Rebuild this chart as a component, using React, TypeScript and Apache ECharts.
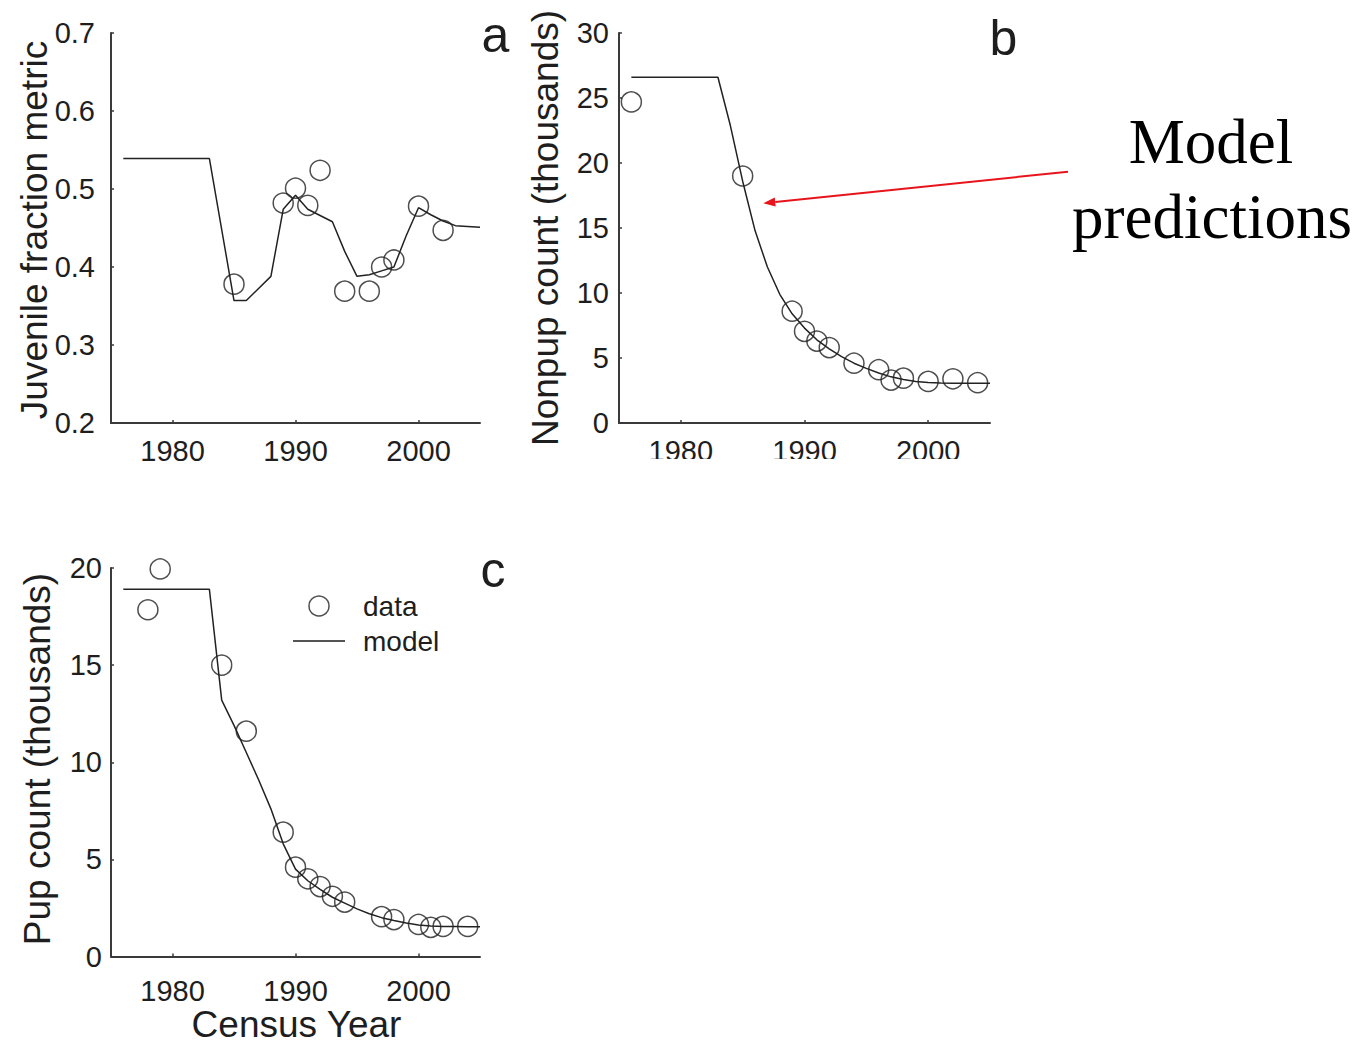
import React, { useEffect, useRef } from "react";
import * as echarts from "echarts";

// ---------- data ----------
const xTicks = [1980, 1990, 2000];

// panel a: juvenile fraction metric
const juvYears = [1985, 1989, 1990, 1991, 1992, 1994, 1996, 1997, 1998, 2000, 2002];
const juvData = [0.378, 0.482, 0.501, 0.479, 0.524, 0.369, 0.369, 0.4, 0.409, 0.478, 0.447];
const juvModelYears = [1976, 1983, 1985, 1986, 1988, 1989, 1990, 1991, 1993, 1994, 1995, 1996, 1997, 1998, 1999, 2000, 2001, 2002, 2003, 2005];
const juvModel = [0.539, 0.539, 0.357, 0.357, 0.388, 0.474, 0.492, 0.474, 0.458, 0.42, 0.388, 0.39, 0.395, 0.4, 0.44, 0.476, 0.467, 0.459, 0.453, 0.451];

// panel b: nonpup count (thousands)
const nonpupYears = [1976, 1985, 1989, 1990, 1991, 1992, 1994, 1996, 1997, 1998, 2000, 2002, 2004];
const nonpupData = [24.7, 19.0, 8.6, 7.05, 6.3, 5.8, 4.6, 4.1, 3.3, 3.45, 3.2, 3.4, 3.1];
const nonpupModelYears = [1976, 1983, 1984, 1985, 1986, 1987, 1988, 1989, 1990, 1991, 1992, 1993, 1994, 1995, 1996, 1997, 1998, 1999, 2000, 2001, 2002, 2003, 2004, 2005];
const nonpupModel = [26.6, 26.6, 22.9, 18.6, 14.8, 12.0, 9.9, 8.4, 7.3, 6.4, 5.7, 5.1, 4.6, 4.2, 3.85, 3.55, 3.35, 3.2, 3.12, 3.08, 3.06, 3.05, 3.05, 3.05];

// panel c: pup count (thousands)
const pupYears = [1978, 1979, 1984, 1986, 1989, 1990, 1991, 1992, 1993, 1994, 1997, 1998, 2000, 2001, 2002, 2004];
const pupData = [17.85, 19.95, 15.0, 11.6, 6.4, 4.6, 4.0, 3.6, 3.1, 2.8, 2.05, 1.9, 1.65, 1.5, 1.55, 1.55];
const pupModelYears = [1976, 1983, 1984, 1985, 1986, 1987, 1988, 1989, 1990, 1991, 1992, 1993, 1994, 1995, 1996, 1997, 1998, 1999, 2000, 2001, 2002, 2003, 2004, 2005];
const pupModel = [18.9, 18.9, 13.2, 11.9, 10.5, 9.1, 7.6, 5.8, 4.5, 3.9, 3.45, 3.05, 2.75, 2.45, 2.2, 2.0, 1.85, 1.72, 1.62, 1.57, 1.55, 1.54, 1.53, 1.53];

// ---------- styles ----------
const FONT = "'Liberation Sans', Arial, sans-serif";
const SERIF = "'Liberation Serif', 'Times New Roman', serif";
const TXT = "#1e1e1e";
const AX = "#3a3a3a";
const INK = "#222";

const pair = (xs: number[], ys: number[]) => xs.map((x, i) => [x, ys[i]]);

const mkX = (gridIndex: number, margin: number) => ({
  type: "value",
  gridIndex,
  min: 1975,
  max: 2005,
  axisLine: { show: true, onZero: false, lineStyle: { color: AX, width: 2 } },
  axisTick: { show: true, inside: true, length: 3, customValues: xTicks, lineStyle: { color: AX, width: 1.5 } },
  axisLabel: {
    customValues: xTicks,
    margin,
    fontSize: 29,
    lineHeight: 22,
    color: TXT,
    fontFamily: FONT,
    formatter: (v: number) => String(v),
  },
  splitLine: { show: false },
});

const mkY = (gridIndex: number, min: number, max: number, interval: number, margin: number, digits: number) => ({
  type: "value",
  gridIndex,
  min,
  max,
  interval,
  axisLine: { show: true, onZero: false, lineStyle: { color: AX, width: 2 } },
  axisTick: { show: true, inside: true, length: 3, lineStyle: { color: AX, width: 1.5 } },
  axisLabel: {
    margin,
    fontSize: 29,
    color: TXT,
    fontFamily: FONT,
    formatter: (v: number) => v.toFixed(digits),
  },
  splitLine: { show: false },
});

const modelSeries = (i: number, xs: number[], ys: number[]) => ({
  type: "line",
  name: "model",
  xAxisIndex: i,
  yAxisIndex: i,
  data: pair(xs, ys),
  symbol: "none",
  lineStyle: { color: INK, width: 1.5 },
  itemStyle: { color: "transparent", borderColor: "transparent", borderWidth: 0 },
  z: 2,
});

const dataSeries = (i: number, xs: number[], ys: number[]) => ({
  type: "scatter",
  name: "data",
  xAxisIndex: i,
  yAxisIndex: i,
  data: pair(xs, ys),
  symbol: "circle",
  symbolSize: 20,
  itemStyle: { color: "transparent", borderColor: INK, borderWidth: 1.5 },
  z: 3,
});

const txt = (text: string, x: number, y: number, size: number, opts: any = {}) => ({
  type: "text",
  x,
  y,
  rotation: opts.rotation || 0,
  z: 50,
  style: {
    text,
    fill: opts.fill || TXT,
    fontSize: size,
    fontFamily: opts.family || FONT,
    textAlign: "center",
    textVerticalAlign: "middle",
  },
});

export default function App() {
  const ref = useRef<HTMLDivElement>(null);

  useEffect(() => {
    if (!ref.current) return;
    const chart = echarts.init(ref.current, null, { renderer: "svg" });

    // arrow geometry (annotation)
    const tail = [1068, 171.7];
    const tip = [763.3, 203.3];
    const dx = tip[0] - tail[0];
    const dy = tip[1] - tail[1];
    const len = Math.hypot(dx, dy);
    const ux = dx / len;
    const uy = dy / len;
    const headL = 12;
    const headW = 4.5;
    const bx = tip[0] - ux * headL;
    const by = tip[1] - uy * headL;

    const option: any = {
      animation: false,
      backgroundColor: "#fff",
      grid: [
        { left: 111, top: 33, width: 369, height: 390, containLabel: false },
        { left: 619, top: 33, width: 371, height: 390, containLabel: false },
        { left: 111, top: 568, width: 369, height: 388.5, containLabel: false },
      ],
      xAxis: [mkX(0, 16.5), mkX(1, 16.5), mkX(2, 23)],
      yAxis: [mkY(0, 0.2, 0.7, 0.1, 16, 1), mkY(1, 0, 30, 5, 10, 0), mkY(2, 0, 20, 5, 9, 0)],
      legend: {
        orient: "vertical",
        left: 287,
        top: 587,
        itemWidth: 52,
        itemHeight: 20,
        itemGap: 7,
        selectedMode: false,
        textStyle: { fontSize: 28, color: TXT, fontFamily: FONT, padding: [0, 0, 0, 13] },
        data: [
          { name: "data", icon: "circle", itemStyle: { color: "transparent", borderColor: INK, borderWidth: 1.5 } },
          {
            name: "model",
            lineStyle: { color: "#555", width: 2 },
            itemStyle: { color: "transparent", borderColor: "transparent", borderWidth: 0 },
          },
        ],
      },
      series: [
        modelSeries(0, juvModelYears, juvModel),
        dataSeries(0, juvYears, juvData),
        modelSeries(1, nonpupModelYears, nonpupModel),
        dataSeries(1, nonpupYears, nonpupData),
        modelSeries(2, pupModelYears, pupModel),
        dataSeries(2, pupYears, pupData),
      ],
      graphic: [
        // clip of panel b's tick labels as in the reference
        { type: "rect", z: 100, shape: { x: 600, y: 459, width: 420, height: 30 }, style: { fill: "#fff" } },
        txt("a", 495.5, 34.7, 50),
        txt("b", 1003.5, 37.7, 50),
        txt("c", 493, 569.7, 50),
        txt("Juvenile fraction metric", 34, 230, 37, { rotation: Math.PI / 2 }),
        txt("Nonpup count (thousands)", 545.5, 228, 37, { rotation: Math.PI / 2 }),
        txt("Pup count (thousands)", 37, 759, 37, { rotation: Math.PI / 2 }),
        txt("Census Year", 296.5, 1024, 37),
        txt("Model", 1211, 142, 63, { family: SERIF, fill: "#000" }),
        txt("predictions", 1212, 217, 63, { family: SERIF, fill: "#000" }),
        {
          type: "line",
          z: 60,
          shape: { x1: tail[0], y1: tail[1], x2: bx, y2: by },
          style: { stroke: "#e8141b", lineWidth: 2 },
        },
        {
          type: "polygon",
          z: 60,
          shape: {
            points: [
              [tip[0], tip[1]],
              [bx - uy * headW, by + ux * headW],
              [bx + uy * headW, by - ux * headW],
            ],
          },
          style: { fill: "#e8141b" },
        },
      ],
    };

    chart.setOption(option);
    return () => chart.dispose();
  }, []);

  return (
    <div
      ref={ref}
      style={{ position: "absolute", left: 0, top: 0, width: 1361, height: 1044, background: "#fff" }}
    />
  );
}
